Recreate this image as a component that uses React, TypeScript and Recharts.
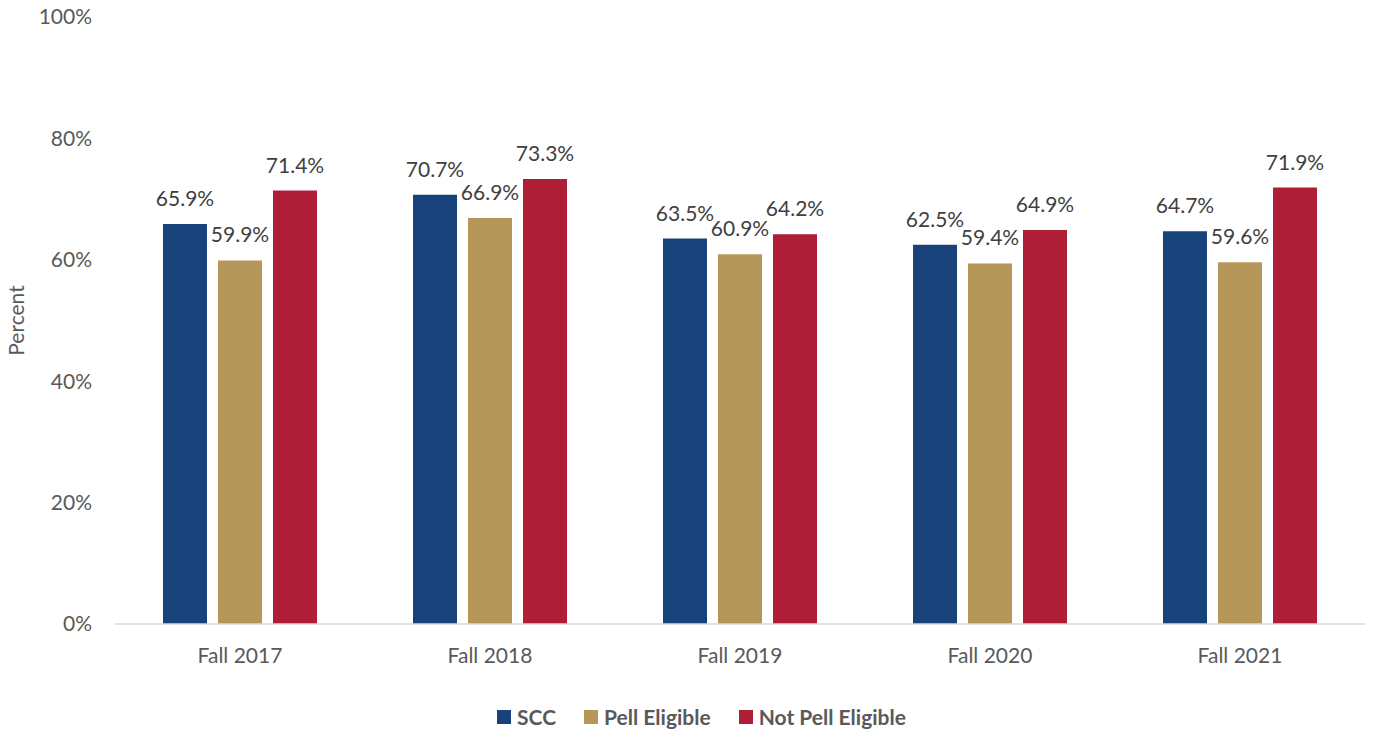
import React from "react";
import { BarChart, Bar, XAxis, YAxis, Legend, LabelList } from "recharts";

const categories = ["Fall 2017", "Fall 2018", "Fall 2019", "Fall 2020", "Fall 2021"];
const scc = [65.9, 70.7, 63.5, 62.5, 64.7];
const pellEligible = [59.9, 66.9, 60.9, 59.4, 59.6];
const notPellEligible = [71.4, 73.3, 64.2, 64.9, 71.9];
const yTicks = [0, 20, 40, 60, 80, 100];

const seriesInfo = [
  { key: "scc", name: "SCC", color: "#17437A" },
  { key: "pell", name: "Pell Eligible", color: "#B5975A" },
  { key: "notPell", name: "Not Pell Eligible", color: "#AE1E37" },
];

const data = categories.map((c, i) => ({
  category: c,
  scc: scc[i],
  pell: pellEligible[i],
  notPell: notPellEligible[i],
}));

const FONT = "Lato, 'Open Sans', sans-serif";
const FS = 21;

const LegendContent = () => (
  <div
    style={{
      display: "flex",
      justifyContent: "center",
      alignItems: "center",
      fontFamily: FONT,
      fontWeight: 700,
      fontSize: FS,
      lineHeight: "25px",
      color: "#595959",
      paddingLeft: 38,
    }}
  >
    {seriesInfo.map((s) => (
      <div key={s.key} style={{ display: "flex", alignItems: "center", margin: "0 14px" }}>
        <span style={{ display: "inline-block", width: 14, height: 14, background: s.color, marginRight: 6 }} />
        <span>{s.name}</span>
      </div>
    ))}
  </div>
);

export default function App() {
  return (
    <div style={{ position: "absolute", left: 0, top: 0, background: "#fff" }}>
      <BarChart
        width={1373}
        height={729}
        data={data}
        margin={{ top: 17, right: 8, left: 0, bottom: 0 }}
        barCategoryGap={48}
        barGap={11}
      >
        <XAxis
          dataKey="category"
          axisLine={{ stroke: "#D9D9D9", strokeWidth: 1.5 }}
          tickLine={false}
          tick={{ fill: "#595959", fontSize: FS, fontFamily: FONT }}
          tickMargin={18}
          height={80}
        />
        <YAxis
          domain={[0, 100]}
          ticks={yTicks}
          tickFormatter={(v) => `${v}%`}
          axisLine={false}
          tickLine={false}
          tickSize={0}
          tickMargin={23}
          width={115}
          tick={{ fill: "#595959", fontSize: FS, fontFamily: FONT }}
          label={{
            value: "Percent",
            angle: -90,
            position: "insideLeft",
            offset: 17,
            style: { fill: "#595959", fontSize: FS, fontFamily: FONT, textAnchor: "middle" },
          }}
        />
        <Legend verticalAlign="bottom" content={<LegendContent />} />
        {seriesInfo.map((s) => (
          <Bar key={s.key} dataKey={s.key} name={s.name} fill={s.color} isAnimationActive={false}>
            <LabelList
              dataKey={s.key}
              position="top"
              offset={18}
              formatter={(v: number) => `${v.toFixed(1)}%`}
              style={{ fill: "#404040", fontSize: FS, fontFamily: FONT }}
            />
          </Bar>
        ))}
      </BarChart>
    </div>
  );
}
